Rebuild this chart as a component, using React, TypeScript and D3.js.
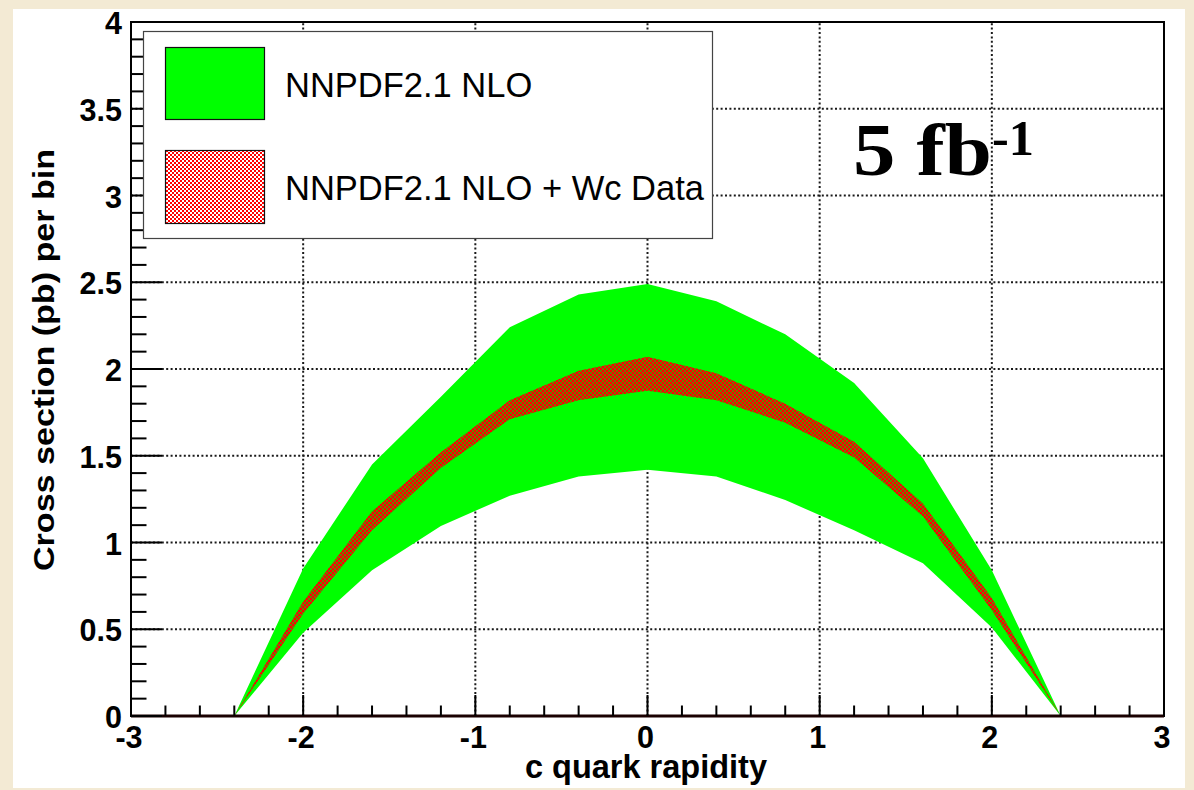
import React from "react";
import * as d3 from "d3";

const rapidity = [-2.4, -2.0, -1.6, -1.2, -0.8, -0.4, 0, 0.4, 0.8, 1.2, 1.6, 2.0, 2.4];
const nloUpper = [0, 0.85, 1.45, 1.84, 2.24, 2.43, 2.49, 2.39, 2.2, 1.92, 1.485, 0.84, 0];
const nloLower = [0, 0.48, 0.84, 1.095, 1.27, 1.38, 1.42, 1.38, 1.245, 1.07, 0.88, 0.51, 0];
const wcUpper = [0, 0.66, 1.18, 1.52, 1.82, 1.99, 2.07, 1.975, 1.8, 1.58, 1.225, 0.68, 0];
const wcLower = [0, 0.59, 1.07, 1.43, 1.71, 1.82, 1.875, 1.82, 1.69, 1.49, 1.15, 0.61, 0];

const xTicks = [-3, -2, -1, 0, 1, 2, 3];
const xTickLabels = ["-3", "-2", "-1", "0", "1", "2", "3"];
const yTicks = [0, 0.5, 1, 1.5, 2, 2.5, 3, 3.5, 4];
const yTickLabels = ["0", "0.5", "1", "1.5", "2", "2.5", "3", "3.5", "4"];
const xGrid = [-2, -1, 0, 1, 2];
const yGrid = [0.5, 1, 1.5, 2, 2.5, 3, 3.5];
const legendLabels = ["NNPDF2.1 NLO", "NNPDF2.1 NLO + Wc Data"];
const xTitle = "c quark rapidity";
const yTitle = "Cross section (pb) per bin";

const W = 1194, H = 790;
const L = 131, R = 1164, T = 22, B = 716;

export default function App() {
  const x = d3.scaleLinear().domain([-3, 3]).range([L, R]);
  const y = d3.scaleLinear().domain([0, 4]).range([B, T]);

  const idx = d3.range(rapidity.length);
  const nloArea = d3.area<number>()
    .x((i) => x(rapidity[i]))
    .y0((i) => y(nloLower[i]))
    .y1((i) => y(nloUpper[i]))(idx) || "";
  const wcArea = d3.area<number>()
    .x((i) => x(rapidity[i]))
    .y0((i) => y(wcLower[i]))
    .y1((i) => y(wcUpper[i]))(idx) || "";

  const xMinor = d3.range(-3, 3.0001, 0.2).map((v) => Math.round(v * 10) / 10);
  const yMinor = d3.range(0, 4.0001, 0.1).map((v) => Math.round(v * 10) / 10);

  const sans = "'Liberation Sans', Arial, Helvetica, sans-serif";
  const gridStyle = { stroke: "#1a1a1a", strokeWidth: 2, strokeDasharray: "2 2.4" };

  return (
    <svg width={W} height={H} style={{ position: "absolute", left: 0, top: 0 }}>
      <defs>
        <pattern id="chkBand" width={4} height={4} patternUnits="userSpaceOnUse">
          <rect x={0} y={0} width={4} height={4} fill="#6e7c00" />
          <rect x={0} y={0} width={2} height={2} fill="#ff0000" />
          <rect x={2} y={2} width={2} height={2} fill="#ff0000" />
        </pattern>
        <pattern id="chkLeg" width={4} height={4} patternUnits="userSpaceOnUse">
          <rect x={0} y={0} width={4} height={4} fill="#ffffff" />
          <rect x={0} y={0} width={2} height={2} fill="#ff0000" />
          <rect x={2} y={2} width={2} height={2} fill="#ff0000" />
        </pattern>
      </defs>
      <rect x={0} y={0} width={W} height={H} fill="#f3ead4" />
      <rect x={13} y={9} width={1172} height={779} fill="#ffffff" />

      {/* grid */}
      {xGrid.map((v) => (
        <line key={"gx" + v} x1={x(v)} x2={x(v)} y1={B} y2={T} style={gridStyle} />
      ))}
      {yGrid.map((v) => (
        <line key={"gy" + v} x1={L} x2={R} y1={y(v)} y2={y(v)} style={gridStyle} />
      ))}

      {/* bands */}
      <path d={nloArea} fill="#00ff00" />
      <path d={wcArea} fill="url(#chkBand)" />

      {/* frame */}
      <rect x={L} y={T} width={R - L} height={B - T} fill="none" stroke="#000" strokeWidth={2} />
      <line x1={L} x2={R} y1={B} y2={B} stroke="#1a0000" strokeWidth={3} />

      {/* x ticks */}
      {xMinor.map((v) => {
        const major = Math.abs(v - Math.round(v)) < 1e-6;
        return (
          <line key={"xt" + v} x1={x(v)} x2={x(v)} y1={B} y2={B - (major ? 21 : 10.5)} stroke="#000" strokeWidth={2} />
        );
      })}
      {/* y ticks */}
      {yMinor.map((v) => {
        const major = Math.abs(v * 2 - Math.round(v * 2)) < 1e-6;
        return (
          <line key={"yt" + v} x1={L} x2={L + (major ? 31 : 15.5)} y1={y(v)} y2={y(v)} stroke="#000" strokeWidth={2} />
        );
      })}

      {/* tick labels */}
      {xTicks.map((v, i) => (
        <text key={"xl" + v} x={x(v) - 2} y={748} textAnchor="middle" fontFamily={sans} fontWeight="bold" fontSize={30.5} fill="#000">
          {xTickLabels[i]}
        </text>
      ))}
      {yTicks.map((v, i) => (
        <text key={"yl" + v} x={122} y={y(v) + 12} textAnchor="end" fontFamily={sans} fontWeight="bold" fontSize={30.5} fill="#000">
          {yTickLabels[i]}
        </text>
      ))}

      {/* axis titles */}
      <text x={646} y={778} textAnchor="middle" fontFamily={sans} fontWeight="bold" fontSize={32.5} fill="#000">
        {xTitle}
      </text>
      <text
        transform={`translate(54,${360}) rotate(-90)`}
        textAnchor="middle"
        fontFamily={sans}
        fontWeight="bold"
        fontSize={30}
        textLength={422}
        lengthAdjust="spacingAndGlyphs"
        fill="#000"
      >
        {yTitle}
      </text>

      {/* legend */}
      <rect x={143.5} y={31.5} width={569} height={207} fill="#ffffff" stroke="#444" strokeWidth={1.2} />
      <rect x={165.5} y={47.5} width={99} height={72} fill="#00ff00" stroke="#111" strokeWidth={1.2} />
      <rect x={165.5} y={150.5} width={99} height={73} fill="url(#chkLeg)" stroke="#111" strokeWidth={1.2} />
      <text x={285} y={97} fontFamily={sans} fontSize={34.5} fill="#000">
        {legendLabels[0]}
      </text>
      <text x={285} y={200} fontFamily={sans} fontSize={34.5} fill="#000">
        {legendLabels[1]}
      </text>

      {/* luminosity label */}
      <text x={853} y={175} fontFamily="'Liberation Serif', 'Times New Roman', serif" fontWeight="bold" fontSize={74} textLength={139} lengthAdjust="spacingAndGlyphs" fill="#000">
        5 fb
      </text>
      <text x={992} y={155} fontFamily="'Liberation Serif', 'Times New Roman', serif" fontWeight="bold" fontSize={50} textLength={42} lengthAdjust="spacingAndGlyphs" fill="#000">
        -1
      </text>
    </svg>
  );
}
